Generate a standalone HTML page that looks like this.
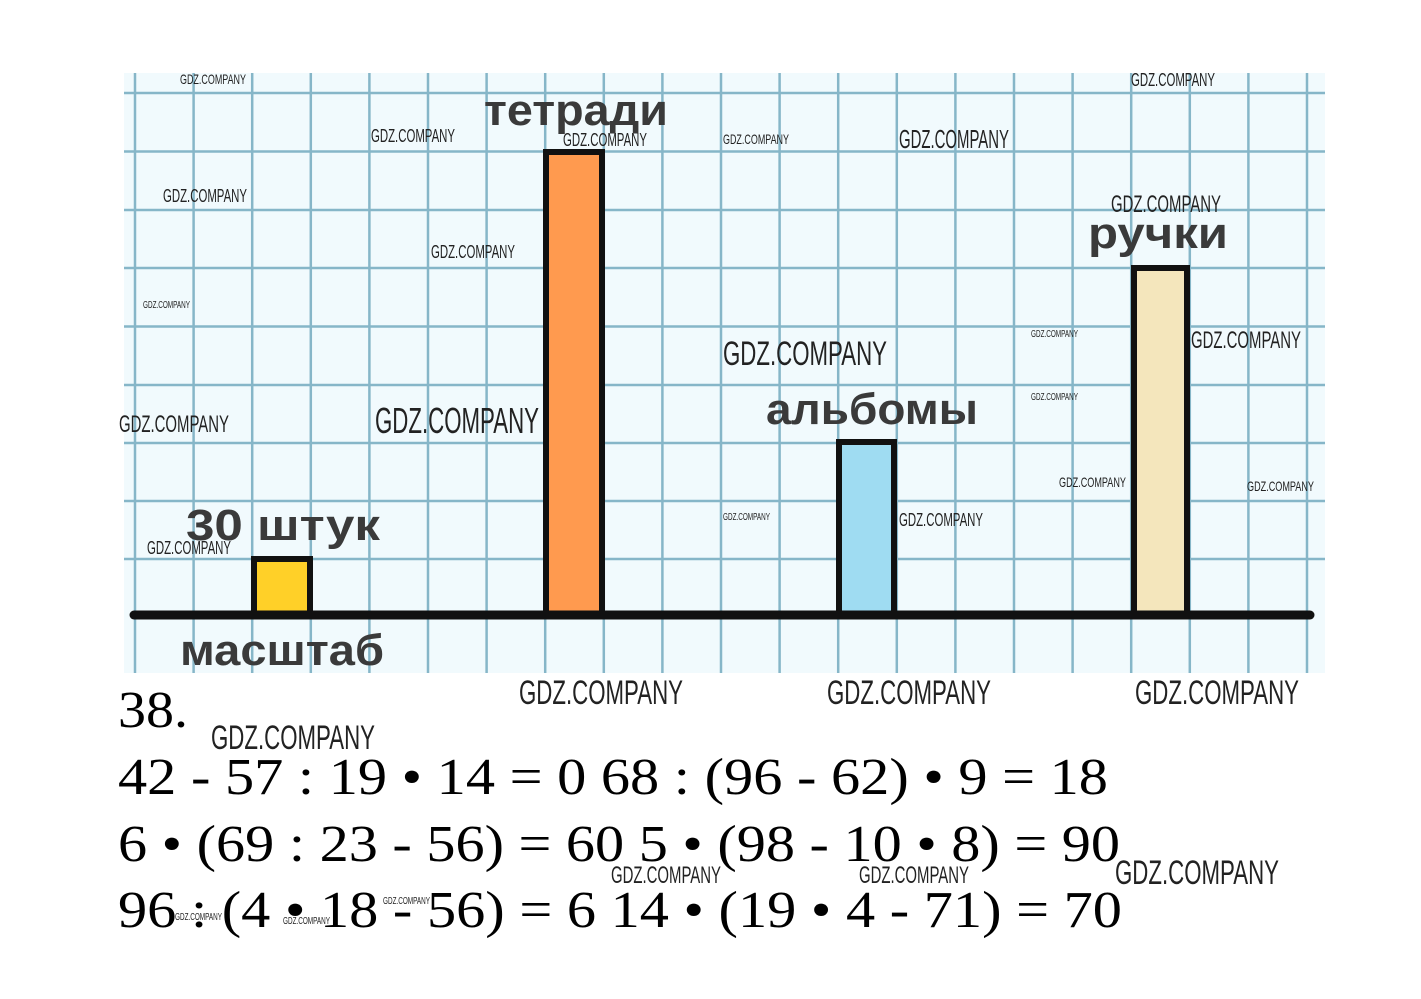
<!DOCTYPE html>
<html><head><meta charset="utf-8"><style>
html,body{margin:0;padding:0;background:#fff;}
svg{display:block}
.w{font-family:"Liberation Sans Narrow","Liberation Sans",sans-serif;fill:#222;}
.l{font-family:"Liberation Sans","DejaVu Sans",sans-serif;font-weight:bold;fill:#3a3a3a;}
.s{font-family:"Liberation Serif",serif;fill:#000;}
</style></head><body>
<svg width="1421" height="999" xmlns="http://www.w3.org/2000/svg">
<rect x="124" y="73" width="1201" height="600" fill="#f1fafd"/>
<g stroke="#5a9ab2" stroke-width="2.5" opacity="0.7">
<line x1="135" y1="73" x2="135" y2="673"/><line x1="193.6" y1="73" x2="193.6" y2="673"/><line x1="252.2" y1="73" x2="252.2" y2="673"/><line x1="310.8" y1="73" x2="310.8" y2="673"/><line x1="369.4" y1="73" x2="369.4" y2="673"/><line x1="428" y1="73" x2="428" y2="673"/><line x1="486.6" y1="73" x2="486.6" y2="673"/><line x1="545.2" y1="73" x2="545.2" y2="673"/><line x1="603.8" y1="73" x2="603.8" y2="673"/><line x1="662.4" y1="73" x2="662.4" y2="673"/><line x1="721" y1="73" x2="721" y2="673"/><line x1="779.6" y1="73" x2="779.6" y2="673"/><line x1="838.2" y1="73" x2="838.2" y2="673"/><line x1="896.8" y1="73" x2="896.8" y2="673"/><line x1="955.4" y1="73" x2="955.4" y2="673"/><line x1="1014" y1="73" x2="1014" y2="673"/><line x1="1072.6" y1="73" x2="1072.6" y2="673"/><line x1="1131.2" y1="73" x2="1131.2" y2="673"/><line x1="1189.8" y1="73" x2="1189.8" y2="673"/><line x1="1248.4" y1="73" x2="1248.4" y2="673"/><line x1="1307" y1="73" x2="1307" y2="673"/>
<line x1="124" y1="93" x2="1325" y2="93"/><line x1="124" y1="151.5" x2="1325" y2="151.5"/><line x1="124" y1="210" x2="1325" y2="210"/><line x1="124" y1="268" x2="1325" y2="268"/><line x1="124" y1="326.5" x2="1325" y2="326.5"/><line x1="124" y1="385" x2="1325" y2="385"/><line x1="124" y1="443" x2="1325" y2="443"/><line x1="124" y1="501" x2="1325" y2="501"/><line x1="124" y1="559" x2="1325" y2="559"/>
</g>
<g stroke="#111" stroke-width="6">
<rect x="254" y="559" width="56" height="56" fill="#ffd028"/>
<rect x="546" y="152" width="56" height="463" fill="#ff9a4f"/>
<rect x="839" y="442" width="55" height="173" fill="#9fdcf2"/>
<rect x="1134" y="268" width="53" height="347" fill="#f4e6bc"/>
</g>
<line x1="134" y1="615" x2="1310" y2="615" stroke="#111" stroke-width="9" stroke-linecap="round"/>
<g class="l" font-size="44" lengthAdjust="spacingAndGlyphs">
<text x="484" y="125" textLength="184" lengthAdjust="spacingAndGlyphs">тетради</text>
<text x="1088" y="248" textLength="140" lengthAdjust="spacingAndGlyphs">ручки</text>
<text x="766" y="424" textLength="212" lengthAdjust="spacingAndGlyphs">альбомы</text>
<text x="186" y="540" textLength="194" lengthAdjust="spacingAndGlyphs">30 штук</text>
<text x="180" y="665" textLength="204" lengthAdjust="spacingAndGlyphs">масштаб</text>
</g>
<g class="s" font-size="52">
<text x="118" y="727" textLength="70" lengthAdjust="spacingAndGlyphs">38.</text>
<text x="118" y="794" textLength="990" lengthAdjust="spacingAndGlyphs">42 - 57 : 19 • 14 = 0 68 : (96 - 62) • 9 = 18</text>
<text x="118" y="861" textLength="1002" lengthAdjust="spacingAndGlyphs">6 • (69 : 23 - 56) = 60 5 • (98 - 10 • 8) = 90</text>
<text x="118" y="927" textLength="1004" lengthAdjust="spacingAndGlyphs">96 : (4 • 18 - 56) = 6 14 • (19 • 4 - 71) = 70</text>
</g>
<g class="w">
<text x="180" y="84" font-size="14" textLength="66" lengthAdjust="spacingAndGlyphs">GDZ.COMPANY</text>
<text x="1131" y="86" font-size="18" textLength="84" lengthAdjust="spacingAndGlyphs">GDZ.COMPANY</text>
<text x="371" y="142" font-size="18" textLength="84" lengthAdjust="spacingAndGlyphs">GDZ.COMPANY</text>
<text x="563" y="146" font-size="18" textLength="84" lengthAdjust="spacingAndGlyphs">GDZ.COMPANY</text>
<text x="723" y="144" font-size="14" textLength="66" lengthAdjust="spacingAndGlyphs">GDZ.COMPANY</text>
<text x="899" y="148" font-size="26" textLength="110" lengthAdjust="spacingAndGlyphs">GDZ.COMPANY</text>
<text x="163" y="202" font-size="18" textLength="84" lengthAdjust="spacingAndGlyphs">GDZ.COMPANY</text>
<text x="1111" y="212" font-size="24" textLength="110" lengthAdjust="spacingAndGlyphs">GDZ.COMPANY</text>
<text x="431" y="258" font-size="18" textLength="84" lengthAdjust="spacingAndGlyphs">GDZ.COMPANY</text>
<text x="143" y="308" font-size="10" textLength="47" lengthAdjust="spacingAndGlyphs">GDZ.COMPANY</text>
<text x="1031" y="337" font-size="10" textLength="47" lengthAdjust="spacingAndGlyphs">GDZ.COMPANY</text>
<text x="1191" y="348" font-size="24" textLength="110" lengthAdjust="spacingAndGlyphs">GDZ.COMPANY</text>
<text x="723" y="365" font-size="34" textLength="164" lengthAdjust="spacingAndGlyphs">GDZ.COMPANY</text>
<text x="1031" y="400" font-size="10" textLength="47" lengthAdjust="spacingAndGlyphs">GDZ.COMPANY</text>
<text x="375" y="433" font-size="36" textLength="164" lengthAdjust="spacingAndGlyphs">GDZ.COMPANY</text>
<text x="119" y="432" font-size="24" textLength="110" lengthAdjust="spacingAndGlyphs">GDZ.COMPANY</text>
<text x="1059" y="487" font-size="14" textLength="67" lengthAdjust="spacingAndGlyphs">GDZ.COMPANY</text>
<text x="1247" y="491" font-size="14" textLength="67" lengthAdjust="spacingAndGlyphs">GDZ.COMPANY</text>
<text x="723" y="520" font-size="10" textLength="47" lengthAdjust="spacingAndGlyphs">GDZ.COMPANY</text>
<text x="899" y="526" font-size="18" textLength="84" lengthAdjust="spacingAndGlyphs">GDZ.COMPANY</text>
<text x="147" y="554" font-size="18" textLength="84" lengthAdjust="spacingAndGlyphs">GDZ.COMPANY</text>
<text x="519" y="704" font-size="34" textLength="164" lengthAdjust="spacingAndGlyphs">GDZ.COMPANY</text>
<text x="827" y="704" font-size="34" textLength="164" lengthAdjust="spacingAndGlyphs">GDZ.COMPANY</text>
<text x="1135" y="704" font-size="34" textLength="164" lengthAdjust="spacingAndGlyphs">GDZ.COMPANY</text>
<text x="211" y="749" font-size="34" textLength="164" lengthAdjust="spacingAndGlyphs">GDZ.COMPANY</text>
<text x="611" y="883" font-size="24" textLength="110" lengthAdjust="spacingAndGlyphs">GDZ.COMPANY</text>
<text x="859" y="883" font-size="24" textLength="110" lengthAdjust="spacingAndGlyphs">GDZ.COMPANY</text>
<text x="1115" y="884" font-size="34" textLength="164" lengthAdjust="spacingAndGlyphs">GDZ.COMPANY</text>
<text x="383" y="904" font-size="10" textLength="47" lengthAdjust="spacingAndGlyphs">GDZ.COMPANY</text>
<text x="175" y="920" font-size="10" textLength="47" lengthAdjust="spacingAndGlyphs">GDZ.COMPANY</text>
<text x="283" y="924" font-size="10" textLength="47" lengthAdjust="spacingAndGlyphs">GDZ.COMPANY</text>
</g>
</svg>
</body></html>
